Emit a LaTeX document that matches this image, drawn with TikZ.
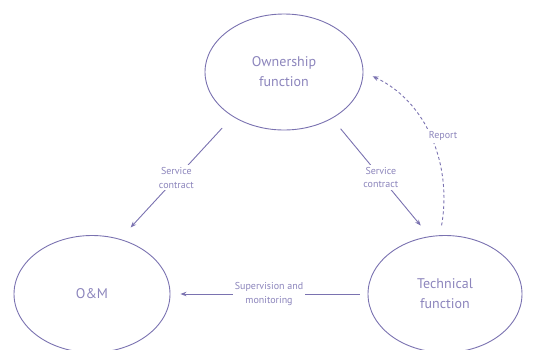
\documentclass[tikz,border=0pt]{standalone}
\usepackage{fontspec}
\setmainfont{PT Sans}
\usetikzlibrary{arrows.meta,shapes.geometric}
\definecolor{lineC}{RGB}{122,114,176}
\definecolor{textC}{RGB}{140,133,188}
\begin{document}
\begin{tikzpicture}[x=1pt,y=-1pt,
  role/.style={draw=lineC,line width=0.9pt,ellipse,minimum width=156pt,minimum height=117pt,inner sep=0pt,
    text=textC,align=center,font=\fontsize{14}{20}\selectfont},
  lbl/.style={fill=white,text=textC,align=center,font=\fontsize{10}{13.5}\selectfont,inner sep=2pt},
  conn/.style={draw=lineC,line width=0.9pt,-{Stealth[length=6pt,width=4.5pt]}},
  dashconn/.style={conn,dash pattern=on 3pt off 2.5pt}]
\useasboundingbox (0,0) rectangle (533,349);
\node[role,minimum width=158pt,minimum height=116pt] (top) at (284,72) {Ownership\\function};
\node[role] (om) at (92,294) {O\&M};
\node[role,minimum width=154pt] (tech) at (445,294) {Technical\\function};
\draw[conn,shorten <=15.6pt,shorten >=15.6pt] (top.221.6) -- (om.63.1)
  node[lbl,pos=0.5] {Service\\contract};
\draw[conn,shorten <=13.3pt,shorten >=13.8pt] (top.316.5) -- (tech.105.7)
  node[lbl,pos=0.5] {Service\\contract};
\draw[conn,shorten <=8pt,shorten >=10pt] (tech.west) -- (om.east)
  node[lbl,pos=0.5] {Supervision and\\monitoring};
\draw[dashconn,shorten <=10pt,shorten >=10pt] (tech.95) to[out=80,in=-25] (top.0);
\node[lbl] (rep) at (443,136) {Report};
\end{tikzpicture}
\end{document}
